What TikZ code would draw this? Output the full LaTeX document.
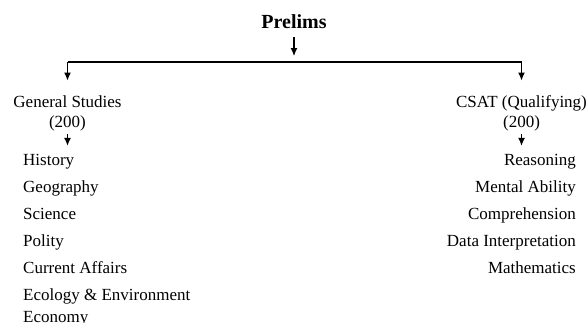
\documentclass[tikz,border=0pt]{standalone}
\usepackage{fontspec}
\setmainfont{Liberation Serif}
\usetikzlibrary{arrows.meta,positioning}

\begin{document}
\begin{tikzpicture}[x=1pt,y=-1pt,
    every node/.style={font=\fontsize{17}{19.5}\selectfont, inner sep=0pt},
    item/.style={text height=12pt, text depth=4pt},
    down/.style={-{Latex[length=8pt,width=7pt]}, line width=1.1pt}]
            \useasboundingbox (0,0) rectangle (588,322);
            \node [font=\bfseries\fontsize{20}{24}\selectfont, anchor=base] (prelims) at (294,28) {Prelims};
            \coordinate (split) at (294,62);
            \coordinate (bl) at (67.5,62);
            \coordinate (br) at (521.5,62);
            \node [align=center, anchor=north] (gs) at (67.5,95.5) {General Studies\\(200)};
            \node [align=center, anchor=north] (csat) at (521.5,95.5) {CSAT (Qualifying)\\(200)};
            \draw [down, shorten <=9pt, shorten >=6pt] (prelims.south) -- (split);
            \draw [line width=1.1pt] (bl) -- (br);
            \draw [down, shorten >=15pt] (bl) -- (bl |- gs.north);
            \draw [down, shorten >=15pt] (br) -- (br |- csat.north);
            \node [item, anchor=base west] (hist) at (23,165) {History};
            \node [item, below=10.7pt of hist.south west, anchor=north west] (geo) {Geography};
            \node [item, below=10.7pt of geo.south west, anchor=north west] (sci) {Science};
            \node [item, below=10.7pt of sci.south west, anchor=north west] (pol) {Polity};
            \node [item, below=10.7pt of pol.south west, anchor=north west] (cur) {Current Affairs};
            \node [item, below=10.7pt of cur.south west, anchor=north west] (eco) {Ecology \& Environment};
            \node [item, below=5.5pt of eco.south west, anchor=north west] (econ) {Economy};
            \draw [down, shorten <=3pt, shorten >=7pt] (gs.south) -- (gs.south |- hist.north);
            \node [item, anchor=base east] (reas) at (576,165) {Reasoning};
            \node [item, below=10.7pt of reas.south east, anchor=north east] (ment) {Mental Ability};
            \node [item, below=10.7pt of ment.south east, anchor=north east] (comp) {Comprehension};
            \node [item, below=10.7pt of comp.south east, anchor=north east] (data) {Data Interpretation};
            \node [item, below=10.7pt of data.south east, anchor=north east] (math) {Mathematics};
            \draw [down, shorten <=3pt, shorten >=7pt] (csat.south) -- (csat.south |- reas.north);
            \end{tikzpicture}
\end{document}
